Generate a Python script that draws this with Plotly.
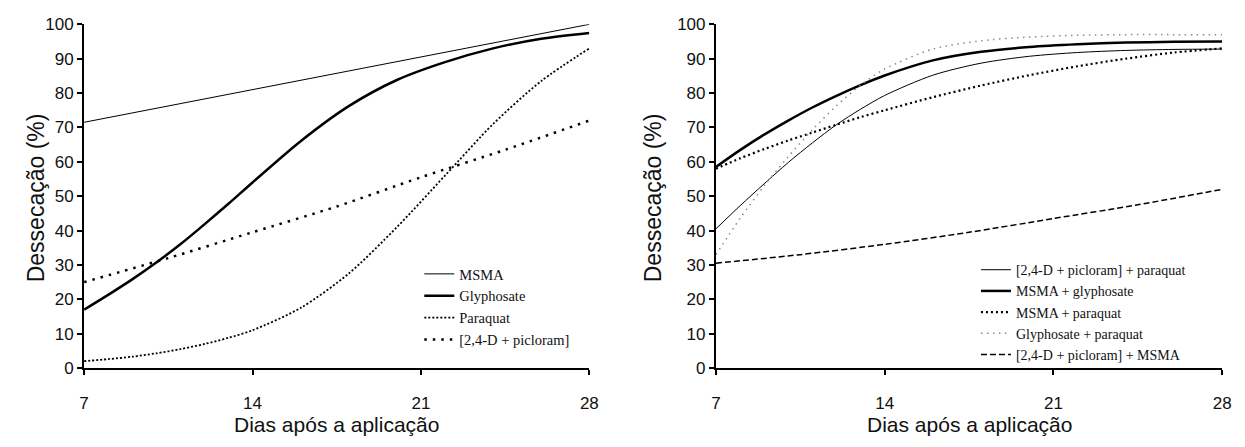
import plotly.graph_objects as go

# ---------------- data ----------------
days_tick = [7, 14, 21, 28]
y_ticks = [0, 10, 20, 30, 40, 50, 60, 70, 80, 90, 100]

# Left panel
left_names = ["MSMA", "Glyphosate", "Paraquat", "[2,4-D + picloram]"]
msma_x = [7, 28]
msma_y = [71.5, 100]
glyph_x = [7, 8, 9, 10, 11, 12, 13, 14, 16, 18, 20, 22, 24, 26, 28]
glyph_y = [17, 21.3, 25.8, 30.7, 36, 41.8, 47.8, 54, 66, 76.2, 83.8, 89, 93, 95.8, 97.5]
paraq_x = [7, 8, 9, 10, 11, 12, 13, 14, 16, 18, 20, 22, 24, 26, 28]
paraq_y = [2, 2.6, 3.3, 4.3, 5.5, 7, 8.8, 11, 17.5, 27.5, 41, 56, 71, 83.5, 93]
dpic_x = [7, 10.5, 14, 17.5, 21, 24.5, 28]
dpic_y = [25, 32, 39.5, 47, 55.5, 63.5, 72]

# Right panel
right_names = ["[2,4-D + picloram] + paraquat", "MSMA + glyphosate", "MSMA + paraquat",
               "Glyphosate + paraquat", "[2,4-D + picloram] + MSMA"]
r_x = [7, 8, 9, 10, 11, 12, 13, 14, 16, 18, 20, 22, 24, 26, 28]
dp_paraq_y = [40.5, 47.2, 53.6, 59.8, 65.5, 70.8, 75.3, 79.3, 85.2, 88.7, 90.7, 91.8, 92.4, 92.7, 92.8]
msma_glyph_y = [58.5, 63.4, 67.9, 72.0, 75.8, 79.2, 82.3, 85.1, 89.5, 92.0, 93.4, 94.2, 94.7, 94.9, 95]
msma_paraq_y = [58, 61, 63.7, 66.2, 68.5, 70.8, 73, 75, 78.8, 82.2, 85.2, 87.8, 90, 91.8, 93]
glyph_paraq_y = [33, 43.5, 53, 61.5, 69.3, 76.3, 82.3, 87, 92.8, 95.2, 96.3, 96.8, 97, 97, 97]
dm_x = [7, 10.5, 14, 17.5, 21, 24.5, 28]
dp_msma_y = [30.5, 33, 36, 39.5, 43.5, 47.5, 52]

# ---------------- figure ----------------
fig = go.Figure()
BLACK = "#000000"

def add(x, y, name, xa, ya, legend, width, dash="solid", color=BLACK):
    fig.add_trace(go.Scatter(
        x=x, y=y, name=name, mode="lines", xaxis=xa, yaxis=ya, legend=legend,
        line=dict(color=color, width=width, dash=dash, shape="spline", smoothing=0.8),
    ))

add(msma_x, msma_y, left_names[0], "x", "y", "legend", 1)
add(glyph_x, glyph_y, left_names[1], "x", "y", "legend", 2.5)
add(paraq_x, paraq_y, left_names[2], "x", "y", "legend", 1.8, "2px,2px")
add(dpic_x, dpic_y, left_names[3], "x", "y", "legend", 2.5, "2.5px,6px")

add(r_x, dp_paraq_y, right_names[0], "x2", "y2", "legend2", 1)
add(r_x, msma_glyph_y, right_names[1], "x2", "y2", "legend2", 2.5)
add(r_x, msma_paraq_y, right_names[2], "x2", "y2", "legend2", 2.2, "2px,3px")
add(r_x, glyph_paraq_y, right_names[3], "x2", "y2", "legend2", 1.5, "1.5px,4.5px", "#8a8a8a")
add(dm_x, dp_msma_y, right_names[4], "x2", "y2", "legend2", 1.5, "6px,3px")

W, H = 1245, 447
tickfont = dict(family="Liberation Sans, Arial", size=17, color="#111111")
axis_common = dict(showgrid=False, zeroline=False, showline=True, linecolor=BLACK,
                   linewidth=2, ticks="outside", ticklen=5, tickwidth=1.5,
                   tickcolor=BLACK, tickfont=tickfont)
xaxis_extra = dict(ticklabelstandoff=14)

ydom = [(H - 375) / H, (H - 16) / H]
serif = "Liberation Serif, Times New Roman"
fig.update_layout(
    width=W, height=H, margin=dict(l=0, r=0, t=0, b=0),
    paper_bgcolor="white", plot_bgcolor="white",
    xaxis=dict(domain=[80 / W, 591 / W], range=[7, 28], tickvals=days_tick,
               anchor="y", **axis_common, **xaxis_extra),
    yaxis=dict(domain=ydom, range=[0, 100], tickvals=y_ticks, anchor="x", **axis_common),
    xaxis2=dict(domain=[719 / W, 1231 / W], range=[7, 28], tickvals=days_tick,
                anchor="y2", **axis_common, **xaxis_extra),
    yaxis2=dict(domain=ydom, range=[0, 100], tickvals=y_ticks, anchor="x2", **axis_common),
    legend=dict(x=419 / W, y=(H - 260) / H, xanchor="left", yanchor="top",
                font=dict(family=serif, size=14.5, color="#111"),
                bgcolor="rgba(0,0,0,0)", itemwidth=30, tracegroupgap=0),
    legend2=dict(x=982 / W, y=(H - 256) / H, xanchor="left", yanchor="top",
                 font=dict(family=serif, size=14, color="#111"),
                 bgcolor="rgba(0,0,0,0)", itemwidth=30, tracegroupgap=0),
    showlegend=True,
)

xtitle_font = dict(family="Liberation Sans, Arial", size=21, color="#111111")
ytitle_font = dict(family="Liberation Sans, Arial", size=23, color="#111111")
annotations = [
    dict(text="Dias após a aplicação", x=(80 + 591) / 2 / W, y=(H - 434) / H,
         xref="paper", yref="paper", showarrow=False, font=xtitle_font,
         xanchor="center", yanchor="middle"),
    dict(text="Dias após a aplicação", x=(719 + 1231) / 2 / W, y=(H - 434) / H,
         xref="paper", yref="paper", showarrow=False, font=xtitle_font,
         xanchor="center", yanchor="middle"),
    dict(text="Dessecação (%)", x=31 / W, y=(H - 197) / H, textangle=-90,
         xref="paper", yref="paper", showarrow=False, font=ytitle_font,
         xanchor="center", yanchor="middle"),
    dict(text="Dessecação (%)", x=655 / W, y=(H - 197) / H, textangle=-90,
         xref="paper", yref="paper", showarrow=False, font=ytitle_font,
         xanchor="center", yanchor="middle"),
]
fig.update_layout(annotations=annotations)

fig.write_html("out.html")
